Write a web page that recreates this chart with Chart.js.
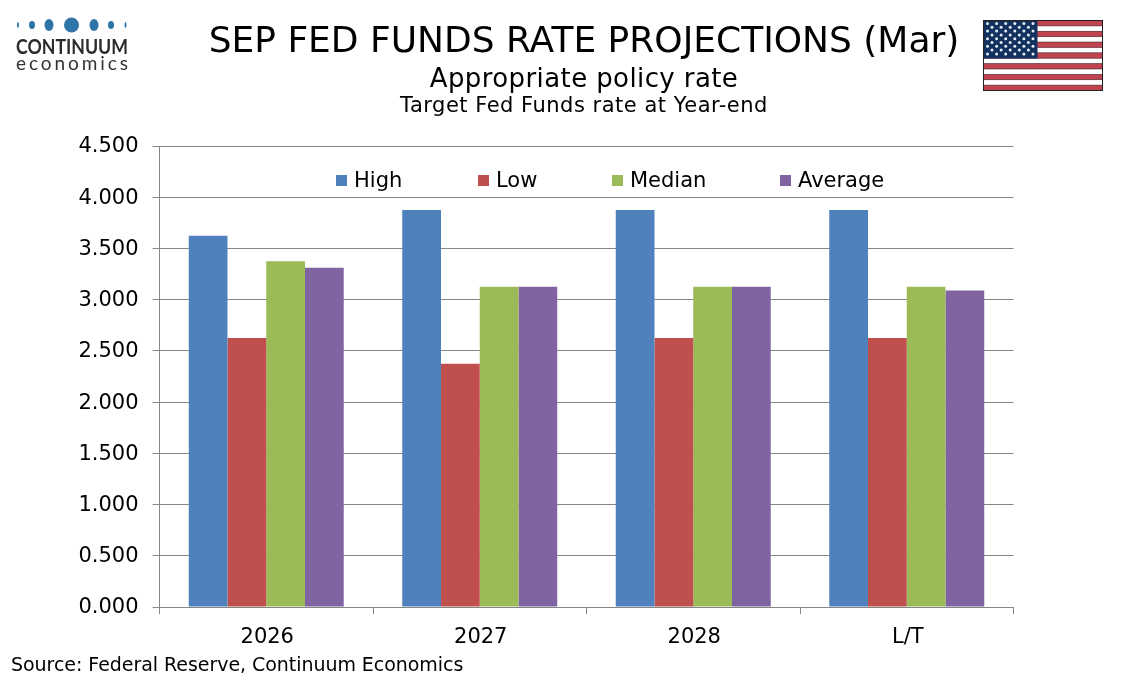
<!DOCTYPE html>
<html>
<head>
<meta charset="utf-8">
<script src="https://cdn.jsdelivr.net/npm/chart.js@4"></script>
<style>
    body { margin: 0; background: #fff; font-family: "DejaVu Sans", sans-serif; color: #000; }
    #wrap { position: relative; width: 1134px; height: 680px; overflow: hidden; }
    #balance { position: absolute; left: 0; top: 0; }
    .txt { position: absolute; white-space: nowrap; }
    .mid { left: 584px; transform: translateX(-50%); }
    .key { position: absolute; top: 168px; font-size: 21px; line-height: 25px; white-space: nowrap; }
    .key i { position: absolute; left: 0; top: 7px; width: 11px; height: 11px; }
    .key span { margin-left: 18px; }
</style>
</head>
<body>
<div id="wrap">
    <canvas id="balance" width="1134" height="680"></canvas>

    <svg class="txt" style="left:0;top:0" width="140" height="80">
        <g fill="#2f75a8">
            <ellipse cx="18" cy="25" rx="1" ry="3"/>
            <ellipse cx="32" cy="25" rx="3" ry="4"/>
            <ellipse cx="49" cy="25" rx="4.5" ry="6"/>
            <circle cx="71.5" cy="25" r="7.5"/>
            <ellipse cx="94" cy="25" rx="4.5" ry="6"/>
            <ellipse cx="111" cy="25" rx="3" ry="4"/>
            <ellipse cx="125.5" cy="25" rx="1" ry="3"/>
        </g>
        <text x="16" y="54" font-family="Lato" font-weight="700" font-size="20" fill="#2b2b2b" textLength="112" lengthAdjust="spacingAndGlyphs">CONTINUUM</text>
        <text x="16" y="70" font-family="Lato" font-size="19" fill="#333" textLength="112">economics</text>
    </svg>

    <svg id="flag" class="txt" style="left:983px;top:20px" width="120" height="71"></svg>

    <div class="txt mid" style="top:19px;font-size:36px;line-height:42px">SEP FED FUNDS RATE PROJECTIONS (Mar)</div>
    <div class="txt mid" style="top:63px;font-size:26px;line-height:30px;letter-spacing:0.4px">Appropriate policy rate</div>
    <div class="txt mid" style="top:93px;font-size:21px;line-height:25px;letter-spacing:0.5px">Target Fed Funds rate at Year-end</div>
    <div class="txt" style="left:11px;top:652px;font-size:19px;line-height:24px;letter-spacing:-0.05px">Source: Federal Reserve, Continuum Economics</div>
</div>

<script>
const categories = ["2026", "2027", "2028", "L/T"];
const high = [3.625, 3.875, 3.875, 3.875];
const low = [2.625, 2.375, 2.625, 2.625];
const median = [3.375, 3.125, 3.125, 3.125];
const average = [3.3125, 3.125, 3.125, 3.09];
const seriesNames = ["High", "Low", "Median", "Average"];
const seriesColors = ["#4f81bd", "#c0504d", "#9bbb59", "#8064a2"];
const legendLeft = [336, 478, 612, 780];

const axisGrey = "#868686";
const font = {family: "'DejaVu Sans', sans-serif", size: 21};

// Legend
const wrap = document.getElementById("wrap");
seriesNames.forEach((name, i) => {
    const key = document.createElement("div");
    key.className = "key";
    key.style.left = legendLeft[i] + "px";
    key.innerHTML = '<i style="background:' + seriesColors[i] + '"></i><span>' + name + "</span>";
    wrap.appendChild(key);
});

// Flag
const flag = document.getElementById("flag");
let flagSvg = '<rect x="0.5" y="0.5" width="119" height="70" fill="#fff"/>';
for (let i = 0; i < 7; i++) {
    flagSvg += '<rect x="0" y="' + (i * 10.77 + 0.5) + '" width="120" height="5.4" fill="#c0444f" stroke="#4a2228" stroke-width="0.6"/>';
}
flagSvg += '<rect x="0.5" y="0.5" width="54" height="38" fill="#13315f"/>';
for (let row = 0; row < 9; row++) {
    const count = row % 2 == 0 ? 6 : 5;
    for (let col = 0; col < count; col++) {
        const cx = (row % 2 == 0 ? 4.5 : 9) + col * 9.1;
        flagSvg += '<circle cx="' + cx + '" cy="' + (3.5 + row * 3.8) + '" r="1.5" fill="#e6edf5"/>';
    }
}
flagSvg += '<rect x="0.5" y="0.5" width="119" height="70" fill="none" stroke="#222" stroke-width="1"/>';
flag.innerHTML = flagSvg;

const ctx = document.getElementById("balance");
const myChart = new Chart(ctx, {
    type: "bar",
    data: {
        labels: categories,
        datasets: [high, low, median, average].map((values, i) => ({
            label: seriesNames[i],
            data: values,
            backgroundColor: seriesColors[i],
            borderWidth: 0,
            categoryPercentage: 0.726,
            barPercentage: 1
        }))
    },
    options: {
        responsive: false,
        animation: false,
        devicePixelRatio: 1,
        layout: {padding: {left: 0, right: 120.5, top: 146, bottom: 0}},
        plugins: {legend: {display: false}, title: {display: false}, tooltip: {enabled: false}},
        scales: {
            y: {
                min: 0,
                max: 4.5,
                afterFit: (scale) => { scale.width = 159.5; },
                ticks: {
                    stepSize: 0.5,
                    color: "#000",
                    font: font,
                    padding: 14,
                    labelOffset: 1,
                    callback: (v) => v.toFixed(3)
                },
                grid: {color: axisGrey, lineWidth: 1, tickLength: 7},
                border: {color: axisGrey, width: 1}
            },
            x: {
                afterFit: (scale) => { scale.height = 73; },
                ticks: {color: "#000", font: font, padding: 11, maxRotation: 0, labelOffset: 1},
                grid: {color: axisGrey, lineWidth: 1, tickLength: 7, drawOnChartArea: false, offset: true},
                border: {color: axisGrey, width: 1}
            }
        }
    }
});
</script>
</body>
</html>
